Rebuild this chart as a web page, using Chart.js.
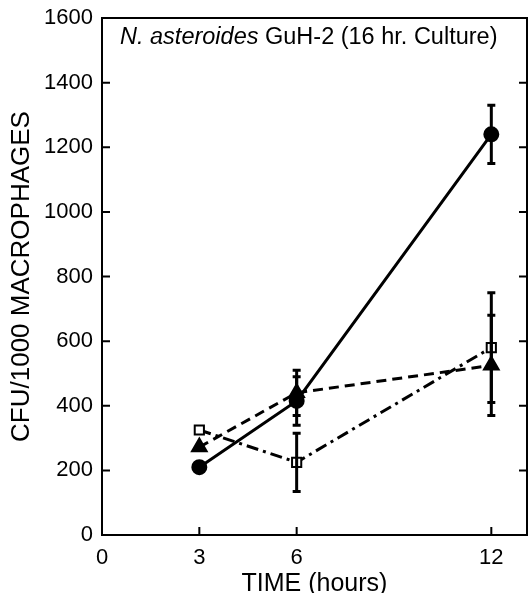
<!DOCTYPE html>
<html>
<head>
<meta charset="utf-8">
<script src="https://cdn.jsdelivr.net/npm/chart.js@4/dist/chart.umd.min.js"></script>
<style>
  html, body { margin: 0; padding: 0; background: #fff; overflow: hidden; }
  #wrap { width: 528px; height: 593px; }
</style>
</head>
<body>
<div id="wrap"><canvas id="chart"></canvas></div>
<script>
// time points (hours)
const hours = [3, 6, 12];
const xTicks = [0, 3, 6, 12];

// CFU per 1000 macrophages
const circleVals = [210, 415, 1240];
const circleErr = [0, 75, 90];
const triangleVals = [272, 440, 525];
const triangleErr = [0, 70, 155];
const squareVals = [325, 225, 580];
const squareErr = [0, 90, 170];

const FONT = 'Liberation Sans';

function pts(vals) {
    return hours.map((h, i) => ({ x: h, y: vals[i] }));
}

// error bars, caps drawn from the error arrays
const errorBars = {
    id: 'errorBars',
    afterDatasetsDraw(chart) {
        const ctx = chart.ctx;
        const xs = chart.scales.x, ys = chart.scales.y;
        const errs = [circleErr, triangleErr, squareErr];
        ctx.save();
        ctx.strokeStyle = '#000';
        ctx.lineWidth = 3;
        ctx.setLineDash([]);
        chart.data.datasets.forEach((ds, d) => {
            ds.data.forEach((p, i) => {
                const e = errs[d][i];
                if (!e) return;
                const x = xs.getPixelForValue(p.x);
                const top = ys.getPixelForValue(p.y + e);
                const bot = ys.getPixelForValue(p.y - e);
                ctx.beginPath();
                ctx.moveTo(x, top); ctx.lineTo(x, bot);
                ctx.moveTo(x - 4, top); ctx.lineTo(x + 4, top);
                ctx.moveTo(x - 4, bot); ctx.lineTo(x + 4, bot);
                ctx.stroke();
            });
        });
        ctx.restore();
    }
};

// frame, inward ticks and the inset caption
const frame = {
    id: 'frame',
    afterDraw(chart) {
        const ctx = chart.ctx;
        const a = chart.chartArea;
        const xs = chart.scales.x, ys = chart.scales.y;
        ctx.save();
        ctx.strokeStyle = '#000';
        ctx.lineWidth = 2;
        ctx.strokeRect(a.left, a.top, a.right - a.left, a.bottom - a.top);
        ctx.beginPath();
        ys.ticks.forEach(t => {
            const y = ys.getPixelForValue(t.value);
            ctx.moveTo(a.left, y); ctx.lineTo(a.left + 8, y);
            ctx.moveTo(a.right, y); ctx.lineTo(a.right - 8, y);
        });
        xTicks.forEach(v => {
            const x = xs.getPixelForValue(v);
            ctx.moveTo(x, a.bottom); ctx.lineTo(x, a.bottom - 8);
        });
        ctx.stroke();

        ctx.fillStyle = '#000';
        ctx.textBaseline = 'alphabetic';
        let x = a.left + 18;
        const y = a.top + 26;
        ctx.font = 'italic 23.5px ' + FONT;
        ctx.fillText('N. asteroides', x, y);
        x += ctx.measureText('N. asteroides ').width;
        ctx.font = '23.5px ' + FONT;
        ctx.fillText('GuH-2 (16 hr. Culture)', x, y);
        ctx.restore();
    }
};

new Chart(document.getElementById('chart'), {
    type: 'line',
    data: {
        datasets: [{
            label: 'circle',
            data: pts(circleVals),
            borderColor: '#000',
            borderWidth: 3,
            pointStyle: 'circle',
            pointRadius: 6.5,
            pointBackgroundColor: '#000',
            pointBorderColor: '#000',
            fill: false,
            tension: 0
        }, {
            label: 'triangle',
            data: pts(triangleVals),
            borderColor: '#000',
            borderWidth: 3,
            borderDash: [10, 6],
            pointStyle: 'triangle',
            pointRadius: 7.5,
            pointBackgroundColor: '#000',
            pointBorderColor: '#000',
            fill: false,
            tension: 0
        }, {
            label: 'square',
            data: pts(squareVals),
            borderColor: '#000',
            borderWidth: 3,
            borderDash: [12, 5, 3, 5],
            pointStyle: 'rect',
            pointRadius: 6.5,
            pointBorderWidth: 2,
            pointBackgroundColor: '#fff',
            pointBorderColor: '#000',
            fill: false,
            tension: 0
        }]
    },
    options: {
        responsive: true,
        maintainAspectRatio: false,
        animation: false,
        layout: { autoPadding: false, padding: { top: 18, right: 1, left: 0, bottom: 0 } },
        plugins: {
            legend: { display: false },
            tooltip: { enabled: false }
        },
        scales: {
            x: {
                type: 'linear',
                min: 0,
                max: 13.1,
                afterBuildTicks: s => { s.ticks = xTicks.map(v => ({ value: v })); },
                afterFit: s => { s.height = 58; s.paddingLeft = 0; s.paddingRight = 0; },
                grid: { display: false, drawTicks: false, tickLength: 0 },
                border: { display: false },
                ticks: { color: '#000', padding: 10, font: { family: FONT, size: 22 } },
                title: {
                    display: true,
                    text: 'TIME (hours)',
                    color: '#000',
                    padding: { top: 0, bottom: -6 },
                    font: { family: FONT, size: 25 }
                }
            },
            y: {
                min: 0,
                max: 1600,
                ticks: {
                    stepSize: 200,
                    color: '#000',
                    padding: 9,
                    font: { family: FONT, size: 22 },
                    callback: v => String(v)
                },
                afterFit: s => { s.width = 102; s.paddingTop = 0; s.paddingBottom = 0; },
                grid: { display: false, drawTicks: false, tickLength: 0 },
                border: { display: false },
                title: {
                    display: true,
                    text: 'CFU/1000 MACROPHAGES',
                    color: '#000',
                    padding: { top: 6, bottom: 0 },
                    font: { family: FONT, size: 26 }
                }
            }
        }
    },
    plugins: [errorBars, frame]
});
</script>
</body>
</html>
